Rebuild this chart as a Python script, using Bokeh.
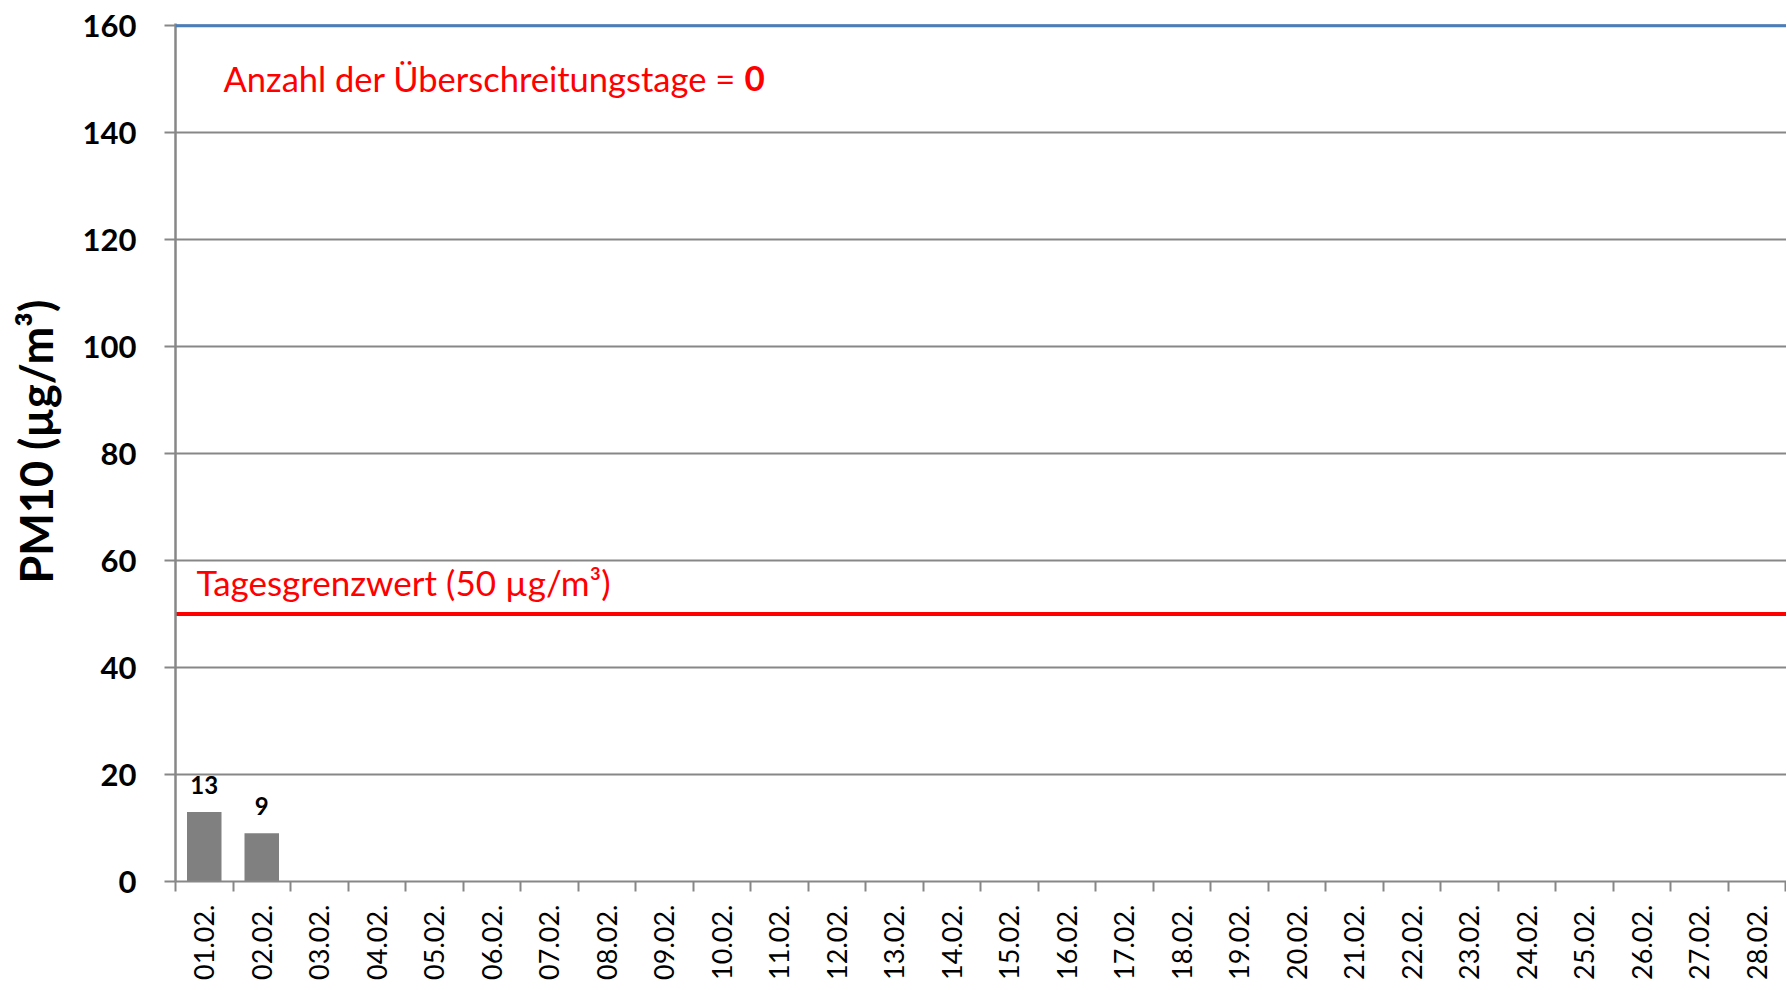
from bokeh.plotting import figure
from bokeh.models import Range1d, FixedTicker, Span, ColumnDataSource
from bokeh.core.properties import value
from bokeh.embed import file_html
from bokeh.resources import INLINE

# ---- data ----
days = ["%02d.02." % d for d in range(1, 29)]
pm10_days = ["01.02.", "02.02."]
pm10_values = [13, 9]
limit_value = 50
exceed_count = 0
y_ticks = [0, 20, 40, 60, 80, 100, 120, 140, 160]

FONT = "Lato"
GRAY = "#878787"

W, H = 1786, 982
LEFT, TOP, BOTTOM = 175, 23, 99
CAT_PX = 57.5
x_end = -0.5 + (W - LEFT) / CAT_PX

p = figure(width=W, height=H, output_backend="svg", toolbar_location=None,
           x_range=Range1d(-0.5, x_end), y_range=Range1d(0, 160.4),
           min_border_left=LEFT, min_border_right=0, min_border_top=TOP,
           min_border_bottom=BOTTOM)
p.outline_line_color = None
p.background_fill_color = "white"
p.border_fill_color = "white"

# axes
xpos = list(range(len(days)))
p.xaxis.ticker = FixedTicker(ticks=xpos, minor_ticks=[i - 0.5 for i in range(len(days) + 1)])
p.xaxis.major_label_overrides = {i: d for i, d in enumerate(days)}
p.xaxis.major_label_orientation = 3.14159265 / 2
p.xaxis.major_tick_out = 0
p.xaxis.major_tick_in = 0
p.xaxis.minor_tick_out = 10
p.xaxis.minor_tick_in = 0
p.xaxis.minor_tick_line_color = GRAY
p.xaxis.minor_tick_line_width = 2
p.xaxis.axis_line_color = GRAY
p.xaxis.axis_line_width = 2
p.xaxis.major_label_standoff = 13
p.xaxis.major_label_text_font = FONT
p.xaxis.major_label_text_font_size = "27px"
p.xaxis.major_label_text_color = "black"

p.yaxis.ticker = FixedTicker(ticks=y_ticks)
p.yaxis.major_tick_out = 11
p.yaxis.major_tick_in = 0
p.yaxis.minor_tick_out = 0
p.yaxis.minor_tick_in = 0
p.yaxis.major_tick_line_color = GRAY
p.yaxis.major_tick_line_width = 2
p.yaxis.axis_line_color = GRAY
p.yaxis.axis_line_width = 2.5
p.yaxis.major_label_standoff = 28
p.yaxis.major_label_text_font = FONT
p.yaxis.major_label_text_font_style = "bold"
p.yaxis.major_label_text_font_size = "31px"
p.yaxis.major_label_text_color = "black"
p.yaxis.axis_label = "\u00a0\u00a0PM10 (µg/m³)"
p.yaxis.axis_label_text_font = FONT
p.yaxis.axis_label_text_font_style = "bold"
p.yaxis.axis_label_text_font_size = "45px"
p.yaxis.axis_label_text_color = "black"
p.yaxis.axis_label_standoff = 17

p.xgrid.visible = False
p.ygrid.ticker = FixedTicker(ticks=y_ticks[1:])
p.ygrid.grid_line_color = GRAY
p.ygrid.grid_line_width = 2

p.add_layout(Span(location=160, dimension="width", line_color="#4A7EBB", line_width=3))

# bars
bx = [days.index(d) for d in pm10_days]
src = ColumnDataSource(dict(x=bx, y=pm10_values, lbl=[str(v) for v in pm10_values]))
p.vbar(x="x", top="y", bottom=0, width=0.6, source=src, fill_color="#808080", line_color=None)
p.text(x="x", y="y", text="lbl", source=src, text_align="center", text_baseline="bottom",
       y_offset=-18, text_font=value(FONT), text_font_style="bold", text_font_size="24px",
       text_color="black")

# limit line
p.line(x=[-0.5, x_end], y=[limit_value, limit_value], line_color="#FF0000", line_width=4)
p.text(x=[-0.5], y=[limit_value], text=["Tagesgrenzwert (%d µg/m³)" % limit_value],
       x_offset=21, y_offset=-32, text_baseline="alphabetic", text_align="left",
       text_font=value(FONT), text_font_size="35px", text_color="#FF0000")

# exceedance count
p.text(x=[-0.5], y=[160], text=["Anzahl der Überschreitungstage ="],
       x_offset=48, y_offset=53, text_baseline="alphabetic", text_align="left",
       text_font=value(FONT), text_font_size="34.5px", text_color="#FF0000")
p.text(x=[-0.5], y=[160], text=[str(exceed_count)],
       x_offset=569, y_offset=53, text_baseline="alphabetic", text_align="left",
       text_font=value(FONT), text_font_style="bold", text_font_size="35px", text_color="#FF0000")

open("out.html", "w").write(file_html(p, INLINE))
